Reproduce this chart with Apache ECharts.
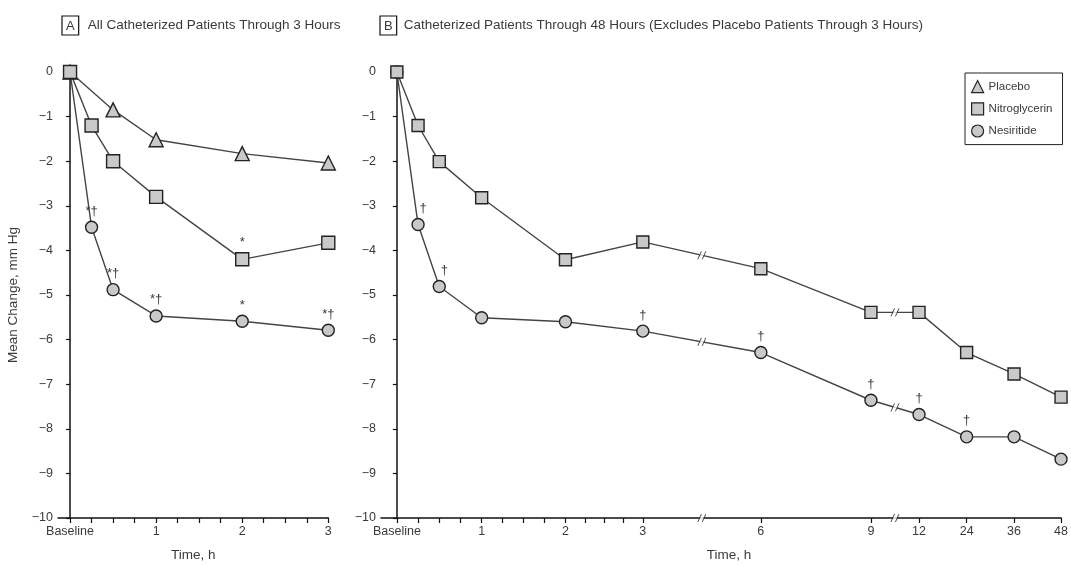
<!DOCTYPE html>
<html>
<head>
<meta charset="utf-8">
<script src="https://cdn.jsdelivr.net/npm/echarts@6/dist/echarts.min.js"></script>
<style>
  html, body { margin: 0; padding: 0; background: #fff; }
  #main { width: 1071px; height: 567px; }
</style>
</head>
<body>
<div id="main"></div>
<script>
// panel A: all catheterized patients through 3 h
const timesA = [0, 0.25, 0.5, 1, 2, 3]
const placeboTimesA = [0, 0.5, 1, 2, 3]
const placeboA = [0, -0.85, -1.52, -1.83, -2.04]
const nitroA = [0, -1.2, -2.0, -2.8, -4.2, -3.83]
const nesiA = [0, -3.48, -4.88, -5.47, -5.59, -5.79]
const nitroNotesA = ['', '', '', '', '*', '']
const nesiNotesA = ['', '*†', '*†', '*†', '*', '*†']
const ticksA = [0, 0.25, 0.5, 0.75, 1, 1.25, 1.5, 1.75, 2, 2.25, 2.5, 2.75, 3]
const labelsA = { 0: 'Baseline', 1: '1', 2: '2', 3: '3' }

// panel B: through 48 h
const timesB = [0, 0.25, 0.5, 1, 2, 3, 6, 9, 12, 24, 36, 48]
const nitroB = [0, -1.2, -2.01, -2.82, -4.21, -3.81, -4.41, -5.39, -5.39, -6.29, -6.77, -7.29]
const nesiB = [0, -3.42, -4.81, -5.51, -5.6, -5.81, -6.29, -7.36, -7.68, -8.18, -8.18, -8.68]
const nesiNotesB = ['', '†', '†', '', '', '†', '†', '†', '†', '†', '', '']
const ticksB = [0, 0.25, 0.5, 0.75, 1, 1.25, 1.5, 1.75, 2, 2.25, 2.5, 2.75, 3, 6, 9, 12, 24, 36, 48]
const labelTimesB = [0, 1, 2, 3, 6, 9, 12, 24, 36, 48]
const breaksB = [[3, 6], [9, 12]]

// the 48 h axis is not linear: hours -> distance along the axis (piecewise)
const scaleKnotsT = [0, 1, 2, 3, 6, 9, 12, 24, 36, 48]
const scaleKnotsX = [0, 85.5, 170, 248, 367, 478, 526.5, 574.5, 622.3, 669.7]
function posB(t) {
    for (let i = 1; i < scaleKnotsT.length; i++) {
        if (t <= scaleKnotsT[i]) {
            const f = (t - scaleKnotsT[i - 1]) / (scaleKnotsT[i] - scaleKnotsT[i - 1])
            return scaleKnotsX[i - 1] + f * (scaleKnotsX[i] - scaleKnotsX[i - 1])
        }
    }
    return scaleKnotsX[scaleKnotsX.length - 1]
}

const FONT = '"Liberation Sans", Arial, sans-serif'
const TXT = '#3a3a3a'
const FILL = '#c9c9c9'
const EDGE = '#222'
const LINE = '#444'

const zip = (xs, ys) => xs.map((x, i) => [x, ys[i]])
const minus = v => v === 0 ? '0' : '\u2212' + Math.abs(v)

function yAxis(idx, showName) {
    return {
        type: 'value', gridIndex: idx, min: -10, max: 0, interval: 1,
        name: showName ? 'Mean Change, mm Hg' : '',
        nameLocation: 'middle', nameGap: 38,
        nameTextStyle: { fontSize: 13.5, color: TXT },
        axisLine: { show: true, lineStyle: { color: '#111', width: 1.5 } },
        axisTick: { show: true, length: 4, lineStyle: { color: '#111', width: 1.2 } },
        axisLabel: { fontSize: 12.5, color: TXT, margin: 5, formatter: minus },
        splitLine: { show: false }
    }
}

function lineSeries(name, symbol, size, xi, data, notes) {
    return {
        name: name, type: 'line', xAxisIndex: xi, yAxisIndex: xi,
        data: data, symbol: symbol, symbolSize: size,
        showAllSymbol: true, clip: false, z: 3,
        lineStyle: { color: LINE, width: 1.4 },
        itemStyle: { color: FILL, borderColor: EDGE, borderWidth: 1.4 },
        label: notes ? {
            show: true, position: 'top', distance: 3,
            fontSize: 13, color: TXT, fontFamily: FONT,
            formatter: p => notes[p.dataIndex]
        } : { show: false },
        emphasis: { disabled: true }
    }
}

// break marks "//" on the axis line and on the two lines of panel B
const breakOnAxis = breaksB.map(b => [(posB(b[0]) + posB(b[1])) / 2, -10])
const breakOnLines = []
breaksB.forEach(b => {
    const i0 = timesB.indexOf(b[0]), i1 = timesB.indexOf(b[1]);
    [nitroB, nesiB].forEach(s => {
        breakOnLines.push([(posB(b[0]) + posB(b[1])) / 2, (s[i0] + s[i1]) / 2])
    })
})
const breakPts = breakOnAxis.concat(breakOnLines)

const boxStyle = { fontSize: 13, color: TXT, borderColor: '#111', borderWidth: 1.2, padding: [4, 4, 2, 4], fontFamily: FONT, fontWeight: 'normal' }

// nesiritide panel B: early daggers sit a bit to the right of the marker
const nesiSeriesB = lineSeries('Nesiritide', 'circle', 12, 1, zip(timesB.map(posB), nesiB), nesiNotesB)
nesiSeriesB.data = nesiSeriesB.data.map((d, i) => i === 1 || i === 2
    ? { value: d, label: { offset: [5, 0] } } : d)

const chart = echarts.init(document.getElementById('main'))
chart.setOption({
    animation: false,
    textStyle: { fontFamily: FONT },
    title: [
        {
            left: 57, top: 11,
            text: '{box|A}{t|All Catheterized Patients Through 3 Hours}',
            textStyle: {
                fontWeight: 'normal',
                rich: {
                    box: boxStyle,
                    t: { fontSize: 13.5, color: TXT, padding: [0, 0, 0, 9], fontFamily: FONT, fontWeight: 'normal' }
                }
            }
        },
        {
            left: 375, top: 11,
            text: '{box|B}{t|Catheterized Patients Through 48 Hours (Excludes Placebo Patients Through 3 Hours)}',
            textStyle: {
                fontWeight: 'normal',
                rich: {
                    box: boxStyle,
                    t: { fontSize: 13.5, color: TXT, padding: [0, 0, 0, 7], fontFamily: FONT, fontWeight: 'normal' }
                }
            }
        }
    ],
    legend: {
        left: 965, top: 73, orient: 'vertical',
        itemWidth: 12, itemHeight: 12, itemGap: 9,
        padding: [7, 10, 7, 6],
        borderColor: '#222', borderWidth: 1,
        textStyle: { fontSize: 11.5, color: TXT },
        itemStyle: { color: FILL, borderColor: EDGE, borderWidth: 1.2 },
        data: [
            { name: 'Placebo', icon: 'triangle' },
            { name: 'Nitroglycerin', icon: 'rect' },
            { name: 'Nesiritide', icon: 'circle' }
        ]
    },
    grid: [
        { left: 58, top: 72, width: 270.3, height: 450 },
        { left: 381, top: 72, width: 686, height: 450 }
    ],
    xAxis: [
        {
            type: 'value', gridIndex: 0, min: -0.14, max: 3,
            name: 'Time, h', nameLocation: 'middle', nameGap: 30,
            nameTextStyle: { fontSize: 13.5, color: TXT },
            axisLine: { show: true, onZero: false, lineStyle: { color: '#111', width: 1.5 } },
            axisTick: { show: true, length: 5, customValues: ticksA, lineStyle: { color: '#111', width: 1.2 } },
            axisLabel: {
                fontSize: 12.5, color: TXT, margin: 7,
                customValues: [0, 1, 2, 3],
                formatter: v => labelsA[v]
            },
            splitLine: { show: false }
        },
        {
            type: 'value', gridIndex: 1, min: -16, max: posB(48),
            name: 'Time, h', nameLocation: 'middle', nameGap: 30,
            nameTextStyle: { fontSize: 13.5, color: TXT, padding: [0, 0, 0, 16] },
            axisLine: { show: true, onZero: false, lineStyle: { color: '#111', width: 1.5 } },
            axisTick: { show: true, length: 5, customValues: ticksB.map(posB), lineStyle: { color: '#111', width: 1.2 } },
            axisLabel: {
                fontSize: 12.5, color: TXT, margin: 7,
                customValues: labelTimesB.map(posB),
                formatter: v => {
                    const i = labelTimesB.findIndex(t => Math.abs(posB(t) - v) < 0.01)
                    return i === 0 ? 'Baseline' : String(labelTimesB[i])
                }
            },
            splitLine: { show: false }
        }
    ],
    yAxis: [yAxis(0, true), yAxis(1, false)],
    series: [
        lineSeries('Nesiritide', 'circle', 12, 0, zip(timesA, nesiA), nesiNotesA),
        lineSeries('Placebo', 'triangle', 14, 0, zip(placeboTimesA, placeboA), null),
        lineSeries('Nitroglycerin', 'rect', 13, 0, zip(timesA, nitroA), nitroNotesA),
        nesiSeriesB,
        lineSeries('Nitroglycerin', 'rect', 12, 1, zip(timesB.map(posB), nitroB), null),
        {
            type: 'scatter', xAxisIndex: 1, yAxisIndex: 1, data: breakPts,
            symbol: 'rect', symbolSize: [4, 7], clip: false, z: 4, silent: true,
            itemStyle: { color: '#fff' }
        },
        {
            type: 'scatter', xAxisIndex: 1, yAxisIndex: 1, data: breakPts,
            symbol: 'path://M0,10L4,0M5,10L9,0', symbolSize: [8, 8], clip: false, z: 5, silent: true,
            itemStyle: { color: 'transparent', borderColor: '#222', borderWidth: 1 }
        }
    ]
})
</script>
</body>
</html>
